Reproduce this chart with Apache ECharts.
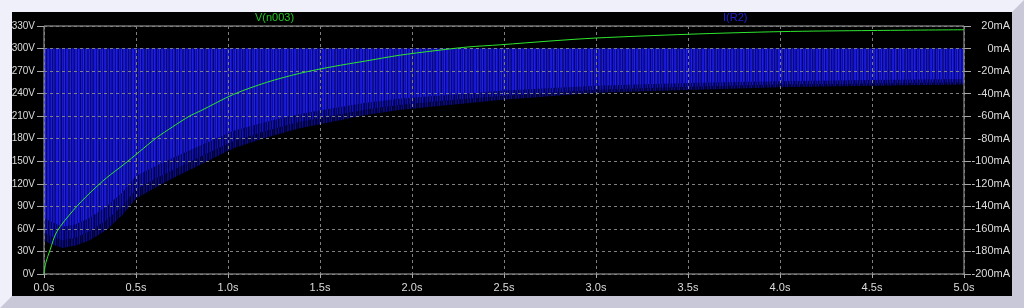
<!DOCTYPE html>
<html>
<head>
<meta charset="utf-8">
<script src="https://cdn.jsdelivr.net/npm/echarts@6/dist/echarts.min.js"></script>
<style>
  html, body { margin: 0; padding: 0; background: #f0f0fa; }
  #wrap { position: relative; width: 1024px; height: 308px; overflow: hidden; }
  #bevel { position: absolute; left: 0; top: 0; width: 1024px; height: 308px; background: #c8c8d8;
    clip-path: polygon(1024px 0, 1012px 12px, 1012px 296px, 12px 296px, 0 308px, 1024px 308px); }
  #panel { position: absolute; left: 12px; top: 12px; width: 1000px; height: 284px; background: #000; }
  #chart { position: absolute; left: 0; top: 0; width: 1024px; height: 308px; }
</style>
</head>
<body>
<div id="wrap">
  <div id="bevel"></div>
  <div id="panel"></div>
  <div id="chart"></div>
</div>
<script>
// V(n003) in volts, sampled along time (s)
const vTime = [0, 0.01, 0.033, 0.069, 0.16, 0.25, 0.34, 0.43, 0.52, 0.61, 0.70, 0.79, 0.85, 1.03, 1.21, 1.39, 1.57, 1.75, 1.93, 2.12, 2.30, 2.48, 2.75, 3.0, 3.5, 4.0, 4.5, 5.0];
const vValues = [0, 15, 32, 56, 85, 108, 128, 145, 163, 181, 196, 210, 217, 239, 255, 267, 276, 283.5, 291, 297, 302, 305, 310, 314, 319, 322.5, 324, 325];

// I(R2) in mA: lower envelope of the pulses (deepest troughs), mid troughs and typical troughs
const iTime = [0, 0.03, 0.1, 0.17, 0.25, 0.34, 0.43, 0.5, 0.61, 0.70, 0.85, 1.03, 1.21, 1.39, 1.57, 1.75, 1.93, 2.12, 2.30, 2.48, 3.0, 3.5, 4.0, 4.5, 5.0];
const iDeep = [-170, -173, -177, -175, -170, -161, -147, -133, -123, -115, -103, -88.5, -79, -70.7, -64.9, -58.9, -54.6, -51.5, -48.6, -45.6, -39.3, -36.7, -34.3, -33, -32];
const iMid = [-163, -166, -170, -168, -162, -152, -139, -125, -115, -108, -96, -82, -73, -65, -59.5, -54, -50, -47, -44.5, -42, -36.5, -34, -32, -31, -30];
const iTypical = [-150, -153, -158, -156, -150, -140, -127, -113, -104, -97, -86, -73, -65, -58, -53, -48, -44.5, -42, -40, -37.5, -33, -30.5, -29, -28, -27];

const voltTicks = { min: 0, max: 330, interval: 30 };
const ampTicks = { min: -200, max: 20, interval: 20 };
const timeTicks = { min: 0, max: 5, interval: 0.5 };

function stripes(colors) {
  const c = document.createElement('canvas');
  c.width = colors.length; c.height = 4;
  const ctx = c.getContext('2d');
  colors.forEach((col, i) => { ctx.fillStyle = col; ctx.fillRect(i, 0, 1, 4); });
  return c;
}
const brightPat = stripes(['#1a1ad6','#0a0a8c','#1e1ee6','#1212b4','#06066e','#1818cc','#0e0ea0','#2020ec','#08087c','#1616c4','#1a1ada','#0c0c98','#101088','#1c1cdc','#08087a','#1616c8','#1010a8','#0a0a84','#1818d2']);
const midPat = stripes(['#10109e','#04045a','#1414b4','#080878','#020244','#0e0e94','#060666','#1212ac','#03034c','#0c0c8c']);
const darkPat = stripes(['#08086a','#000036','#0c0c84','#030350','#00002a','#0a0a76','#020244','#0e0e8a','#000030','#050560','#000024','#0a0a7c']);

const zip = (a, b) => a.map((t, i) => [t, b[i]]);

const chart = echarts.init(document.getElementById('chart'), null, { renderer: 'canvas' });
const labelFont = { color: '#dcdcdc', fontSize: 10, fontFamily: 'Liberation Sans, sans-serif' };

chart.setOption({
  animation: false,
  backgroundColor: 'transparent',
  grid: { left: 44, right: 60, top: 26, bottom: 34, show: true, borderColor: '#a8a8a8', borderWidth: 1, backgroundColor: 'transparent', z: 3 },
  xAxis: {
    type: 'value', min: timeTicks.min, max: timeTicks.max, interval: timeTicks.interval,
    axisLine: { show: false },
    axisTick: { show: true, length: 4, lineStyle: { color: '#a8a8a8' } },
    axisLabel: Object.assign({ margin: 8, formatter: v => v.toFixed(1) + 's' }, labelFont, { fontSize: 11 }),
    splitLine: { show: true, lineStyle: { color: '#808080', type: [3, 3], width: 1 } },
    z: 3
  },
  yAxis: [
    {
      type: 'value', position: 'left', min: voltTicks.min, max: voltTicks.max, interval: voltTicks.interval,
      axisLine: { show: false },
      axisTick: { show: true, length: 7, lineStyle: { color: '#a8a8a8' } },
      axisLabel: Object.assign({ margin: 9, formatter: v => v + 'V' }, labelFont),
      splitLine: { show: true, lineStyle: { color: '#808080', type: [3, 3], width: 1 } },
      z: 3
    },
    {
      type: 'value', position: 'right', min: ampTicks.min, max: ampTicks.max, interval: ampTicks.interval,
      axisLine: { show: false },
      axisTick: { show: true, length: 7, lineStyle: { color: '#a8a8a8' } },
      axisLabel: Object.assign({ margin: 46, align: 'right', formatter: v => v + 'mA' }, labelFont, { fontSize: 11 }),
      splitLine: { show: false },
      z: 3
    }
  ],
  graphic: [
    { type: 'text', left: 255, top: 12, style: { text: 'V(n003)', fill: '#22c822', font: '11px Liberation Sans, sans-serif' } },
    { type: 'text', left: 723, top: 12, style: { text: 'I(R2)', fill: '#2020d0', font: '11px Liberation Sans, sans-serif' } }
  ],
  series: [
    {
      name: 'I(R2) deep', type: 'line', yAxisIndex: 1, z: 1, showSymbol: false, silent: true,
      data: zip(iTime, iDeep),
      lineStyle: { width: 0 },
      areaStyle: { origin: 'auto', color: { image: darkPat, repeat: 'repeat' }, opacity: 1 }
    },
    {
      name: 'I(R2) mid', type: 'line', yAxisIndex: 1, z: 1, showSymbol: false, silent: true,
      data: zip(iTime, iMid),
      lineStyle: { width: 0 },
      areaStyle: { origin: 'auto', color: { image: midPat, repeat: 'repeat' }, opacity: 1 }
    },
    {
      name: 'I(R2)', type: 'line', yAxisIndex: 1, z: 1, showSymbol: false, silent: true,
      data: zip(iTime, iTypical),
      lineStyle: { width: 0 },
      areaStyle: { origin: 'auto', color: { image: brightPat, repeat: 'repeat' }, opacity: 1 }
    },
    {
      name: 'V(n003)', type: 'line', yAxisIndex: 0, z: 5, showSymbol: false, smooth: 0.3, silent: true,
      data: zip(vTime, vValues),
      lineStyle: { color: '#2ee62e', width: 1 }
    }
  ]
});
</script>
</body>
</html>
